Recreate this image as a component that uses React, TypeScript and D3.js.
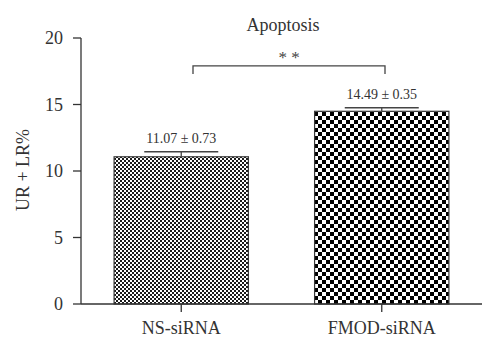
import React from "react";
import * as d3 from "d3";

const categories = ["NS-siRNA", "FMOD-siRNA"];
const means = [11.07, 14.49];
const errors = [0.38, 0.27];
const valueLabels = ["11.07 ± 0.73", "14.49 ± 0.35"];
const yTicks = [0, 5, 10, 15, 20];
const title = "Apoptosis";
const yLabel = "UR + LR%";
const sigLabel = "* *";

const W = 500;
const H = 352;
const FONT = "'Liberation Serif', 'DejaVu Serif', serif";

export default function App() {
  const y = d3.scaleLinear().domain([0, 20]).range([304, 38]);
  const x = d3.scaleBand().domain(categories).range([81, 482]).paddingInner(0.33).paddingOuter(0.165);
  const bw = x.bandwidth();
  const capHalf = 37;
  const sigY = y(17.9);
  const sigLegY = y(17.3);
  const cx = (c: string) => (x(c) as number) + bw / 2;
  const pats = ["fine", "coarse"];

  return (
    <svg width={W} height={H} style={{ position: "absolute", left: 0, top: 0, background: "#fff" }}>
      <defs>
        <pattern id="fine" width={4} height={4} patternUnits="userSpaceOnUse">
          <rect width={4} height={4} fill="#ffffff" />
          <rect width={2} height={2} fill="#1a1a1a" />
          <rect x={2} y={2} width={2} height={2} fill="#1a1a1a" />
        </pattern>
        <pattern id="coarse" width={8} height={8} patternUnits="userSpaceOnUse" x={2} y={0}>
          <rect width={8} height={8} fill="#ffffff" />
          <rect width={4} height={4} fill="#000" />
          <rect x={4} y={4} width={4} height={4} fill="#000" />
        </pattern>
      </defs>

      <text x={283} y={31} textAnchor="middle" fontFamily={FONT} fontSize={18} fill="#333">{title}</text>

      {/* bars */}
      {categories.map((c, i) => (
        <g key={c}>
          <rect x={x(c)} y={y(means[i])} width={bw} height={y(0) - y(means[i])}
            fill={`url(#${pats[i]})`} stroke="#3a3a3a" strokeWidth={1.2} />
          <line x1={cx(c)} x2={cx(c)} y1={y(means[i])} y2={y(means[i] + errors[i])} stroke="#444" strokeWidth={1.3} />
          <line x1={cx(c) - capHalf} x2={cx(c) + capHalf} y1={y(means[i] + errors[i])} y2={y(means[i] + errors[i])} stroke="#444" strokeWidth={1.5} />
          <text x={cx(c)} y={y(means[i] + errors[i]) - 9} textAnchor="middle" fontFamily={FONT} fontSize={14} fill="#333">{valueLabels[i]}</text>
        </g>
      ))}

      {/* significance bracket */}
      <path d={`M${193},${sigLegY}V${sigY}H${385}V${sigLegY}`} fill="none" stroke="#444" strokeWidth={1.3} />
      <text x={289} y={sigY - 3} textAnchor="middle" fontFamily={FONT} fontSize={17} fill="#444">{sigLabel}</text>

      {/* y axis */}
      <line x1={81} x2={81} y1={y(20)} y2={y(0)} stroke="#333" strokeWidth={1.3} />
      {yTicks.map((t) => (
        <g key={t}>
          <line x1={73} x2={81} y1={y(t)} y2={y(t)} stroke="#333" strokeWidth={1.3} />
          <text x={63} y={y(t) + 6} textAnchor="end" fontFamily={FONT} fontSize={18} fill="#333">{t}</text>
        </g>
      ))}
      <text transform={`translate(29,170) rotate(-90)`} textAnchor="middle" fontFamily={FONT} fontSize={18} fill="#333">{yLabel}</text>

      {/* x axis */}
      <line x1={81} x2={482} y1={y(0)} y2={y(0)} stroke="#333" strokeWidth={1.3} />
      {categories.map((c) => (
        <g key={c}>
          <line x1={cx(c)} x2={cx(c)} y1={y(0)} y2={y(0) + 8} stroke="#333" strokeWidth={1.3} />
          <text x={cx(c)} y={334} textAnchor="middle" fontFamily={FONT} fontSize={18} fill="#333">{c}</text>
        </g>
      ))}
    </svg>
  );
}
